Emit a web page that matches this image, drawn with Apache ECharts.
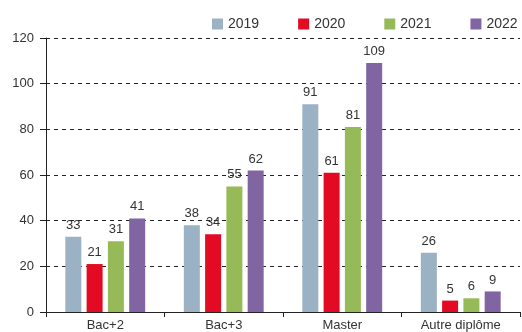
<!DOCTYPE html>
<html>
<head>
<meta charset="utf-8">
<script src="https://cdn.jsdelivr.net/npm/echarts@6/dist/echarts.min.js"></script>
<style>
  html, body { margin: 0; padding: 0; background: #fff; }
  #chart { width: 522px; height: 332px; }
</style>
</head>
<body>
<div id="chart"></div>
<script>
// Diplômes : effectifs par année
const categories = ['Bac+2', 'Bac+3', 'Master', 'Autre diplôme'];
const years = ['2019', '2020', '2021', '2022'];
const values2019 = [33, 38, 91, 26];
const values2020 = [21, 34, 61, 5];
const values2021 = [31, 55, 81, 6];
const values2022 = [41, 62, 109, 9];
const yTicks = [0, 20, 40, 60, 80, 100, 120];

const colors = ['#9bb1c4', '#e30a23', '#97ba58', '#8165a3'];
const seriesValues = [values2019, values2020, values2021, values2022];
const FONT = '"Liberation Sans Narrow", "Liberation Sans", Arial, sans-serif';

const chart = echarts.init(document.getElementById('chart'), null, { renderer: 'canvas' });

chart.setOption({
  animation: false,
  color: colors,
  textStyle: { fontFamily: FONT },
  legend: {
    top: 12,
    left: 207,
    width: 330,
    orient: 'horizontal',
    itemWidth: 11,
    itemHeight: 11,
    itemGap: 39,
    icon: 'rect',
    textStyle: { fontSize: 14, color: '#333', fontFamily: FONT },
    data: years
  },
  grid: { left: 46, right: 2, top: 38, bottom: 19, containLabel: false },
  xAxis: {
    type: 'category',
    data: categories,
    axisLine: { lineStyle: { color: '#222', width: 1 } },
    axisTick: { show: true, length: 5, lineStyle: { color: '#222' } },
    axisLabel: { color: '#333', fontSize: 13, fontFamily: FONT, margin: 7 }
  },
  yAxis: {
    type: 'value',
    min: yTicks[0],
    max: yTicks[yTicks.length - 1],
    interval: 20,
    axisLine: { show: true, lineStyle: { color: '#222', width: 1 } },
    axisTick: { show: true, length: 6, lineStyle: { color: '#222' } },
    axisLabel: { color: '#333', fontSize: 13, fontFamily: FONT, margin: 12 },
    splitLine: { show: true, lineStyle: { color: '#222', type: [4, 4], width: 1 } }
  },
  series: years.map((y, i) => ({
    name: y,
    type: 'bar',
    data: seriesValues[i],
    barWidth: 16,
    barGap: '33%',
    barCategoryGap: '32%',
    itemStyle: { color: colors[i] },
    label: {
      show: true,
      position: 'top',
      distance: 5,
      color: '#333',
      fontSize: 13,
      fontFamily: FONT
    }
  }))
});
</script>
</body>
</html>
